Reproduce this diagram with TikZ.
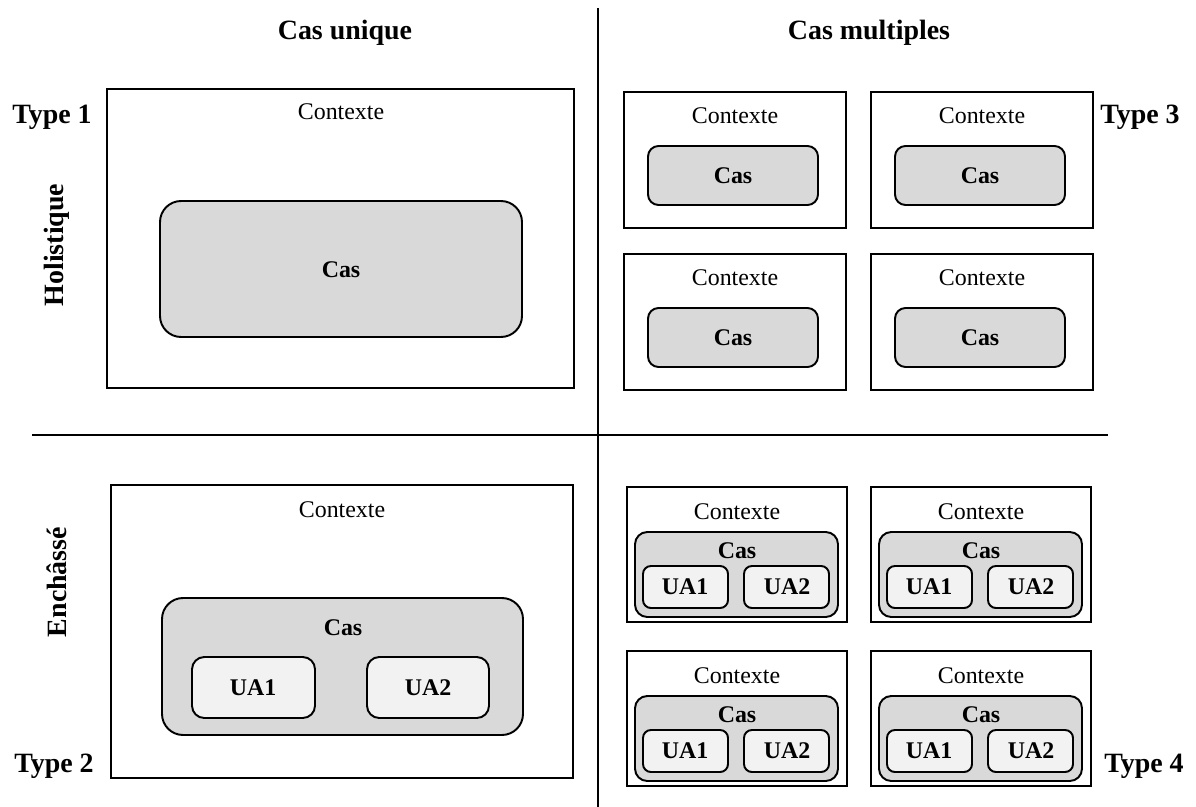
\documentclass[tikz,border=0pt]{standalone}
\usepackage{fontspec}
\setmainfont{Liberation Serif}
\usepackage{xcolor}
\definecolor{casgray}{HTML}{D9D9D9}
\definecolor{uagray}{HTML}{F2F2F2}
\tikzset{
  cadre/.style={draw, line width=1.1pt},
  casbox/.style={draw, fill=casgray, line width=1.1pt},
  uabox/.style={draw, fill=uagray, line width=1.1pt},
  txt/.style={font=\fontsize{13.6}{16}\selectfont},
  gras/.style={font=\fontsize{13.6}{16}\selectfont\bfseries},
  titre/.style={font=\fontsize{15.9}{19}\selectfont\bfseries}
}
\begin{document}
\begin{tikzpicture}[x=0.02cm,y=-0.02cm]
      \useasboundingbox (0,0) rectangle (1196,807);
      % axes
      \draw[line width=1.1pt] (598,8) -- (598,807);
      \draw[line width=1.1pt] (32,435) -- (1108,435);
      \node[titre] (cu) at (345,33) {Cas unique};
      \node[titre] (cm) at (869,33) {Cas multiples};
      \node[titre] (t1) at (52,117) {Type 1};
      \node[titre] (t2) at (54,766) {Type 2};
      \node[titre] (t3) at (1140,117) {Type 3};
      \node[titre] (t4) at (1144,766) {Type 4};
      \node[titre,rotate=90] (hol) at (57,245) {Holistique};
      \node[titre,rotate=90] (enc) at (57,582) {Enchâssé};
      % type 1
      \draw[cadre] (107,89) rectangle (574,388);
      \draw[casbox,rounded corners=12pt] (160,201) rectangle (522,337);
      \node[txt] (ctx1) at (341,112) {Contexte};
      \node[gras] (cas1) at (341,270) {Cas};
      % type 2
      \draw[cadre] (111,485) rectangle (573,778);
      \draw[casbox,rounded corners=12pt] (162,598) rectangle (523,735);
      \draw[uabox,rounded corners=7pt] (192,657) rectangle (315,718);
      \draw[uabox,rounded corners=7pt] (367,657) rectangle (489,718);
      \node[txt] (ctx2) at (342,510) {Contexte};
      \node[gras] (cas2) at (343,628) {Cas};
      \node[gras] (ua21) at (253,688) {UA1};
      \node[gras] (ua22) at (428,688) {UA2};
      % type 3
      \foreach \x in {624,871}{
        \foreach \y in {92,254}{
          \draw[cadre] (\x,\y) rectangle ({\x+222},{\y+136});
          \draw[casbox,rounded corners=6pt] ({\x+24},{\y+54}) rectangle ({\x+194},{\y+113});
          \node[txt] (ctx-\x-\y) at ({\x+111},{\y+24}) {Contexte};
          \node[gras] (cas-\x-\y) at ({\x+109},{\y+84}) {Cas};
        }
      }
      % type 4
      \foreach \x in {627,871}{
        \foreach \y in {487,651}{
          \draw[cadre] (\x,\y) rectangle ({\x+220},{\y+135});
          \draw[casbox,rounded corners=7pt] ({\x+8},{\y+45}) rectangle ({\x+211},{\y+130});
          \draw[uabox,rounded corners=4.5pt] ({\x+16},{\y+79}) rectangle ({\x+101},{\y+121});
          \draw[uabox,rounded corners=4.5pt] ({\x+117},{\y+79}) rectangle ({\x+202},{\y+121});
          \node[txt] (ctx-\x-\y) at ({\x+110},{\y+25}) {Contexte};
          \node[gras] (cas-\x-\y) at ({\x+110},{\y+64}) {Cas};
          \node[gras] (uaa-\x-\y) at ({\x+58},{\y+100}) {UA1};
          \node[gras] (uab-\x-\y) at ({\x+160},{\y+100}) {UA2};
        }
      }
\end{tikzpicture}
\end{document}
